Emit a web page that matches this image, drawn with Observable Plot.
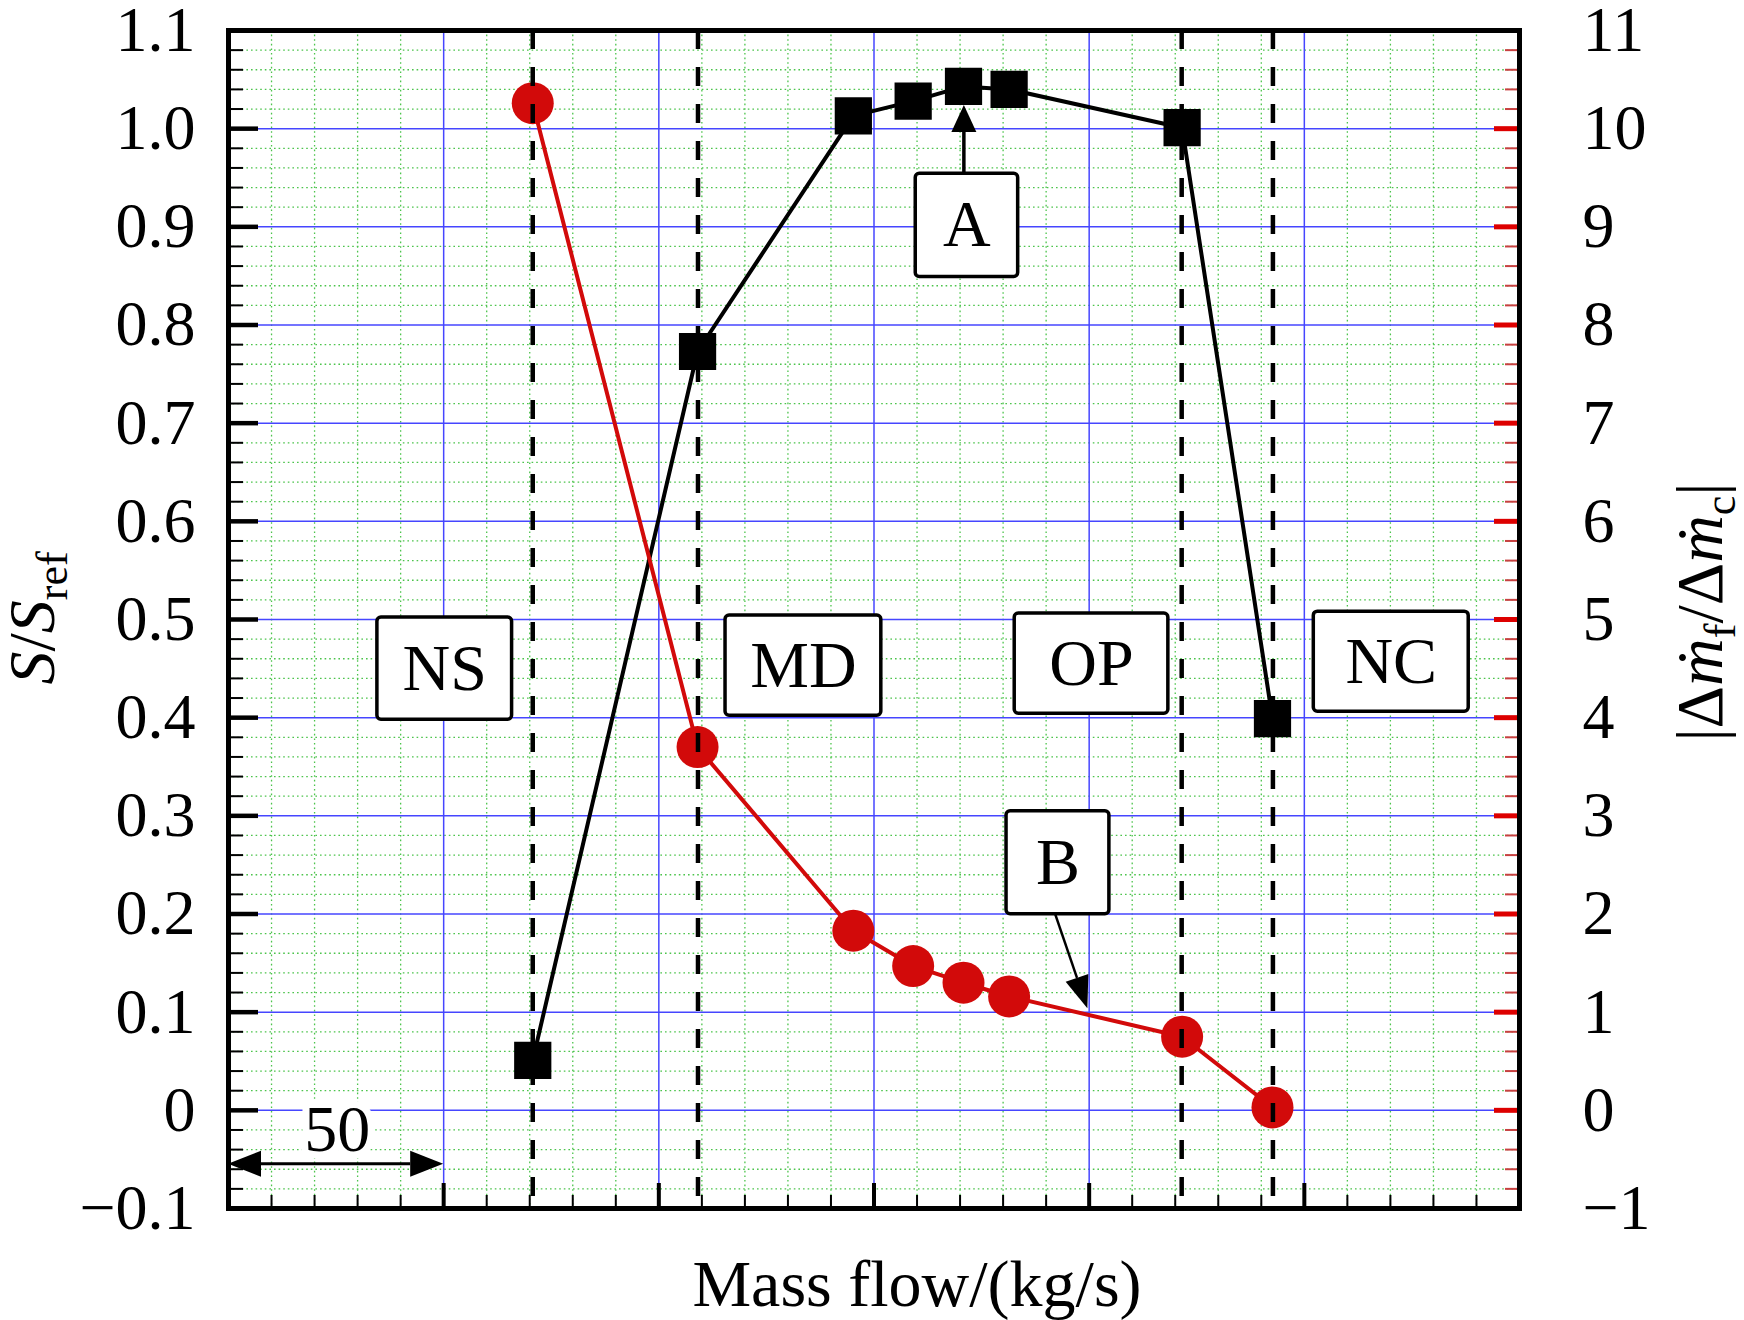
<!DOCTYPE html>
<html><head><meta charset="utf-8">
<script src="https://cdn.jsdelivr.net/npm/d3@7"></script>
<script src="https://cdn.jsdelivr.net/npm/@observablehq/plot@0.6"></script>
<style>
html,body{margin:0;padding:0;background:#fff;}
#chart{width:1744px;height:1320px;}
</style></head><body><div id="chart"></div>
<script>
// ---- data ----
const massFlow   = [70.7, 109.0, 145.2, 159.1, 170.8, 181.4, 221.6, 242.6];   // kg/s (relative, 50 per major division)
const sRatio     = [1.026, 0.370, 0.183, 0.147, 0.130, 0.116, 0.075, 0.003];  // S/Sref (left axis)
const flowRatio  = [0.51, 7.73, 10.13, 10.28, 10.43, 10.40, 10.01, 3.99];     // |Δṁf/Δṁc| (right axis)
const regionBounds = [70.7, 109.1, 221.5, 242.7];
const regionNames  = ["NS", "MD", "OP", "NC"];
const leftTickValues = [-0.1, 0, 0.1, 0.2, 0.3, 0.4, 0.5, 0.6, 0.7, 0.8, 0.9, 1.0, 1.1];
const leftTickLabels = ["−0.1","0","0.1","0.2","0.3","0.4","0.5","0.6","0.7","0.8","0.9","1.0","1.1"];
const rightTickLabels = ["−1","0","1","2","3","4","5","6","7","8","9","10","11"];
const xMajorTicks = [50, 100, 150, 200, 250];
const xGridMajor = [0, 50, 100, 150, 200, 250, 300];

// ---- annotation placement ----
const regionBoxes = [
  {x1: 34.6, x2: 65.9, y1: 0.398, y2: 0.502},
  {x1: 115.5, x2: 151.7, y1: 0.402, y2: 0.504},
  {x1: 182.7, x2: 218.4, y1: 0.404, y2: 0.506},
  {x1: 252.2, x2: 288.2, y1: 0.406, y2: 0.508}
].map((b, i) => ({...b, label: regionNames[i]}));
const pointBoxes = [
  {label: "A", x1: 159.7, x2: 183.5, y1: 0.849, y2: 0.954},
  {label: "B", x1: 180.8, x2: 204.7, y1: 0.1997, y2: 0.3046}
];

const W = 1744, H = 1320, mL = 228, mR = 225, mT = 30, mB = 112;
const FONT = '"Liberation Serif","Times New Roman",Times,serif';
const RED = "#d20a0a";
const xDomain = [0, 300], yDomain = [-0.1, 1.1];
const ux = (xDomain[1] - xDomain[0]) / (W - mL - mR); // data units per px
const uy = (yDomain[1] - yDomain[0]) / (H - mT - mB);

const yMinorTicks = d3.range(-5, 56).filter(i => i % 5 !== 0).map(i => i / 50);
const xMinorTicks = d3.range(0, 31).filter(i => i % 5 !== 0).map(i => i * 10);

const rows = massFlow.map((x, i) => ({x, s: sRatio[i], f: flowRatio[i] / 10}));
const boxes = regionBoxes.concat(pointBoxes);

const plot = Plot.plot({
  width: W, height: H,
  marginLeft: mL, marginRight: mR, marginTop: mT, marginBottom: mB,
  x: {domain: xDomain, axis: null},
  y: {domain: yDomain, label: null},
  style: {fontFamily: FONT, background: "white", color: "black", overflow: "visible"},
  marks: [
    Plot.gridX(xMinorTicks, {stroke: "#4cc44c", strokeOpacity: 1, strokeWidth: 1.3, strokeDasharray: "1.6,3"}),
    Plot.gridY(yMinorTicks, {stroke: "#4cc44c", strokeOpacity: 1, strokeWidth: 1.3, strokeDasharray: "1.6,3"}),
    Plot.gridX(xGridMajor, {stroke: "#4646ff", strokeOpacity: 1, strokeWidth: 1.5}),
    Plot.gridY(leftTickValues, {stroke: "#4646ff", strokeOpacity: 1, strokeWidth: 1.5}),
    // inner ticks
    Plot.ruleY(yMinorTicks, {x1: 0, x2: 15 * ux, stroke: "black", strokeWidth: 2}),
    Plot.ruleY(leftTickValues, {x1: 0, x2: 30 * ux, stroke: "black", strokeWidth: 4.5}),
    Plot.ruleY(yMinorTicks, {x1: 300 - 14 * ux, x2: 300, stroke: "#c84040", strokeWidth: 2}),
    Plot.ruleY(leftTickValues, {x1: 300 - 25 * ux, x2: 300, stroke: "#dd0000", strokeWidth: 5}),
    Plot.ruleX(xMinorTicks, {y1: -0.1, y2: -0.1 + 13 * uy, stroke: "black", strokeWidth: 2}),
    Plot.ruleX(xMajorTicks, {y1: -0.1, y2: -0.1 + 25 * uy, stroke: "black", strokeWidth: 4}),
    // tick labels
    Plot.axisY(leftTickValues, {anchor: "left", tickSize: 0, tickPadding: 33, label: null,
      tickFormat: d => leftTickLabels[leftTickValues.indexOf(d)], fontSize: 64, fontFamily: FONT}),
    Plot.axisY(leftTickValues, {anchor: "right", tickSize: 0, tickPadding: 63, label: null,
      tickFormat: d => rightTickLabels[leftTickValues.indexOf(d)], fontSize: 64, fontFamily: FONT}),
    // series
    Plot.line(rows, {x: "x", y: "f", stroke: "black", strokeWidth: 4}),
    Plot.dot(rows, {x: "x", y: "f", symbol: "square", r: 21, fill: "black"}),
    Plot.line(rows, {x: "x", y: "s", stroke: RED, strokeWidth: 4}),
    Plot.dot(rows, {x: "x", y: "s", r: 21, fill: RED}),
    // region boundaries
    Plot.ruleX(regionBounds, {stroke: "black", strokeWidth: 4.5, strokeDasharray: "19,18"}),
    // boxes
    Plot.rect(boxes, {x1: "x1", x2: "x2", y1: "y1", y2: "y2", fill: "white", stroke: "black", strokeWidth: 3.5, rx: 4}),
    Plot.text(boxes, {x: d => (d.x1 + d.x2) / 2, y: d => (d.y1 + d.y2) / 2, text: "label", fontSize: 66, fill: "black", fontFamily: FONT}),
    // scale annotation "50"
    Plot.text([{x: 25.3, y: -0.0194, t: "50"}], {x: "x", y: "y", text: "t", fontSize: 66, fill: "black", stroke: "white", strokeWidth: 14, fontFamily: FONT}),
    Plot.frame({stroke: "black", strokeWidth: 5})
  ]
});

document.getElementById("chart").appendChild(plot);

// ---- annotations added on top (arrows, axis titles) ----
const svg = d3.select(plot);
const xs = d3.scaleLinear(xDomain, [mL, W - mR]);
const ys = d3.scaleLinear(yDomain, [H - mB, mT]);
const ann = svg.append("g");

function arrow(x1, y1, x2, y2, lw, len, wid, both) {
  const p1 = [xs(x1), ys(y1)], p2 = [xs(x2), ys(y2)];
  const dx = p2[0] - p1[0], dy = p2[1] - p1[1], L = Math.hypot(dx, dy);
  const u = [dx / L, dy / L], n = [-u[1], u[0]];
  const a = both ? [p1[0] + u[0] * len, p1[1] + u[1] * len] : p1;
  const b = [p2[0] - u[0] * len, p2[1] - u[1] * len];
  ann.append("line").attr("x1", a[0]).attr("y1", a[1]).attr("x2", b[0]).attr("y2", b[1])
    .attr("stroke", "black").attr("stroke-width", lw);
  const head = (tip, dir) => {
    const bx = tip[0] - dir[0] * len, by = tip[1] - dir[1] * len;
    ann.append("path").attr("fill", "black")
      .attr("d", `M${tip[0]},${tip[1]}L${bx + n[0] * wid / 2},${by + n[1] * wid / 2}L${bx - n[0] * wid / 2},${by - n[1] * wid / 2}Z`);
  };
  head(p2, u);
  if (both) head(p1, [-u[0], -u[1]]);
}
arrow(171.0, 0.954, 171.0, 1.0237, 3.5, 27, 25, false);
arrow(192.2, 0.1997, 199.7, 0.1036, 2.5, 32, 24, false);
arrow(0, -0.055, 50, -0.055, 3, 33, 26, true);

// x title
ann.append("text").attr("x", 917).attr("y", 1306).attr("text-anchor", "middle")
  .attr("font-family", FONT).attr("font-size", 66).attr("fill", "black").text("Mass flow/(kg/s)");

// left title S/Sref
const lt = ann.append("text").attr("transform", "translate(54,618) rotate(-90)")
  .attr("text-anchor", "middle").attr("font-family", FONT).attr("font-size", 66).attr("fill", "black");
lt.append("tspan").attr("font-style", "italic").text("S");
lt.append("tspan").text("/");
lt.append("tspan").attr("font-style", "italic").text("S");
lt.append("tspan").attr("font-size", 44).attr("dy", 13).text("ref");

// right title |Δṁf/Δṁc|
const rt = ann.append("text").attr("transform", "translate(1722,612) rotate(-90)")
  .attr("text-anchor", "middle").attr("font-family", FONT).attr("font-size", 66).attr("fill", "black");
rt.append("tspan").text("|Δ");
rt.append("tspan").attr("font-style", "italic").text("ṁ");
rt.append("tspan").attr("font-size", 44).attr("dy", 13).text("f");
rt.append("tspan").attr("dy", -13).text("/Δ");
rt.append("tspan").attr("font-style", "italic").text("ṁ");
rt.append("tspan").attr("font-size", 44).attr("dy", 13).text("c");
rt.append("tspan").attr("dy", -13).text("|");
</script>
</body></html>
